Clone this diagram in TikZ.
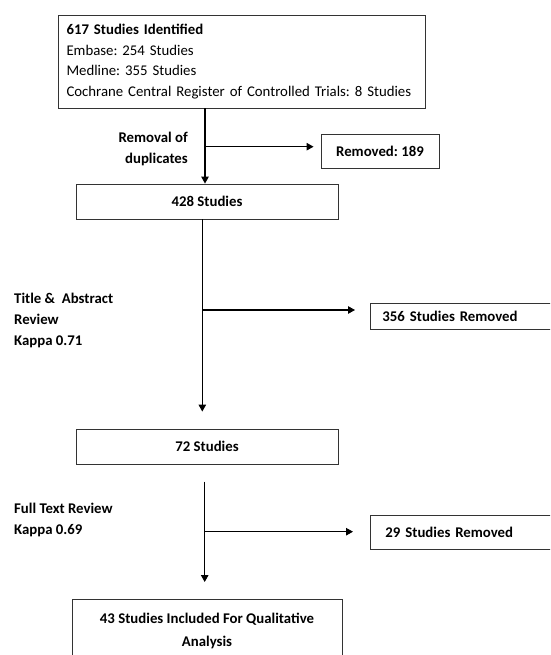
\documentclass[tikz,border=0pt]{standalone}
\usepackage{fontspec}
\setmainfont{Carlito}
\usetikzlibrary{arrows.meta}
\frenchspacing
\begin{document}
\begin{tikzpicture}[x=1pt,y=-1pt,
  font=\fontsize{14.8}{20.4}\selectfont,
  boxst/.style={draw=black!80, line width=0.9pt, rectangle, inner sep=0pt},
  bf/.style={font=\fontsize{14.8}{20.4}\selectfont\bfseries},
  lbl/.style={font=\fontsize{14.8}{21}\selectfont\bfseries, inner sep=0pt},
  arr/.style={line width=1.1pt, -{Triangle[length=7pt,width=7.5pt]}}]
\useasboundingbox (0,0) rectangle (550,655);
\clip (0,0) rectangle (550,655);
% boxes
\node[boxst, minimum width=367pt, minimum height=93pt, text width=350pt, align=left] (b1) at (241.5,61.5)
  {\textbf{617 Studies Identified}\\Embase: 254 Studies\\Medline: 355 Studies\\Cochrane Central Register of Controlled Trials: 8 Studies};
\node[boxst, bf, minimum width=118pt, minimum height=34pt] (rem) at (380,151) {Removed: 189};
\node[boxst, bf, minimum width=262pt, minimum height=35pt] (b2) at (207,201.5) {428 Studies};
\node[boxst, bf, anchor=west, minimum width=200pt, minimum height=26pt, text width=176pt, inner xsep=12pt, align=left] (r2) at (370,316) {356 Studies Removed};
\node[boxst, bf, minimum width=262pt, minimum height=35pt] (b3) at (207,446.5) {72 Studies};
\node[boxst, bf, anchor=west, minimum width=200pt, minimum height=34pt, text width=171pt, inner xsep=15pt, align=left] (r3) at (370,532) {29 Studies Removed};
\node[boxst, anchor=north, minimum width=270pt, inner ysep=14pt, align=center, font=\fontsize{14.8}{22.5}\selectfont\bfseries] (b4) at (207,599) {43 Studies Included For Qualitative\\Analysis};
% labels
\node[lbl, anchor=east, align=right] (l1) at (188,148.5) {Removal of\\duplicates};
\node[lbl, anchor=west, align=left] (l2) at (14,320) {Title \&\ \ Abstract\\Review\\Kappa 0.71};
\node[lbl, anchor=west, align=left] (l3) at (14,519.5) {Full Text Review\\Kappa 0.69};
% connectors
\coordinate (j1) at (205,146.7);
\draw[arr] (b1.south -| j1) -- (b2.north -| j1);
\draw[arr, shorten >=7pt] (j1) -- (j1 -| rem.west);
\coordinate (j2) at (202.3,310);
\draw[arr, shorten >=17pt] (b2.south -| j2) -- (b3.north -| j2);
\draw[arr, shorten >=15pt] (j2) -- (j2 -| r2.west);
\coordinate (j3) at (204.7,531.7);
\coordinate (t3) at (204.7,481.7);
\draw[arr, shorten >=17pt] (t3) -- (b4.north -| t3);
\draw[arr, shorten >=17pt] (j3) -- (j3 -| r3.west);
\end{tikzpicture}
\end{document}
